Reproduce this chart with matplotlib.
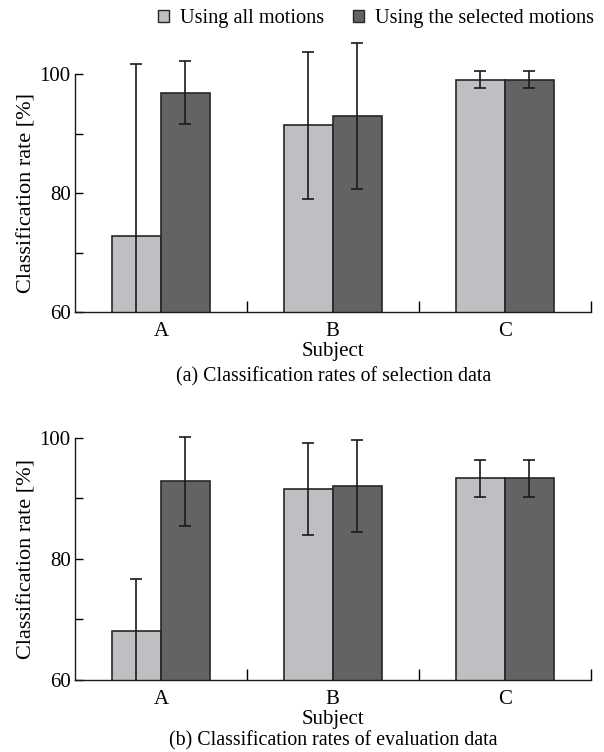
import matplotlib.pyplot as plt
import numpy as np
from matplotlib.patches import Patch

subjects = ["A", "B", "C"]
series_names = ["Using all motions", "Using the selected motions"]

# (a) selection data
sel_all = [72.9, 91.4, 99.1]
sel_all_err = [28.8, 12.4, 1.4]
sel_sel = [96.9, 93.0, 99.1]
sel_sel_err = [5.3, 12.3, 1.4]

# (b) evaluation data
eval_all = [68.1, 91.5, 93.3]
eval_all_err = [8.6, 7.6, 3.1]
eval_sel = [92.8, 92.0, 93.3]
eval_sel_err = [7.3, 7.6, 3.1]

captions = ["(a) Classification rates of selection data",
            "(b) Classification rates of evaluation data"]

light = "#bebfc3"
dark = "#636365"
edge = "#262626"

plt.rcParams["font.family"] = ["Liberation Serif", "DejaVu Serif"]
plt.rcParams["font.size"] = 15


def draw_panel(ax, all_vals, all_err, sel_vals, sel_err):
    x = np.arange(len(subjects))
    w = 0.285
    ekw = dict(ecolor="#1a1a1a", elinewidth=1.2, capsize=4.5, capthick=1.2)
    ax.bar(x - w / 2, all_vals, w, color=light, edgecolor=edge,
           linewidth=1.2, yerr=all_err, error_kw=ekw, zorder=2)
    ax.bar(x + w / 2, sel_vals, w, color=dark, edgecolor=edge,
           linewidth=1.2, yerr=sel_err, error_kw=ekw, zorder=2)

    ax.set_xlim(-0.5, 2.5)
    ax.set_ylim(60, 108)
    ax.spines["top"].set_visible(False)
    ax.spines["right"].set_visible(False)
    ax.spines["left"].set_bounds(60, 100)
    for s in ("left", "bottom"):
        ax.spines[s].set_linewidth(1.0)
        ax.spines[s].set_color("#1a1a1a")

    ax.set_yticks([60, 70, 80, 90, 100])
    ax.set_yticklabels(["60", "", "80", "", "100"])
    ax.tick_params(axis="y", direction="in", length=6, width=1.0, pad=3,
                   labelsize=15)

    ax.set_xticks(x)
    ax.set_xticklabels(subjects)
    ax.set_xticks([0.5, 1.5, 2.5], minor=True)
    ax.tick_params(axis="x", which="major", length=0, pad=7, labelsize=15)
    ax.tick_params(axis="x", which="minor", direction="in", length=8, width=1.0)

    ax.set_xlabel("Subject", labelpad=1, fontsize=15)
    ax.set_ylabel("Classification rate [%]", fontsize=16)
    ax.yaxis.set_label_coords(-0.075, 20 / 48)


fig = plt.figure(figsize=(6.04, 7.52), dpi=100)
ax1 = fig.add_axes([0.124, 0.5847, 0.854, 0.3798])
ax2 = fig.add_axes([0.124, 0.0957, 0.854, 0.3867])

draw_panel(ax1, sel_all, sel_all_err, sel_sel, sel_sel_err)
draw_panel(ax2, eval_all, eval_all_err, eval_sel, eval_sel_err)

fig.text(0.552, 1 - 381 / 752, captions[0], ha="center", va="baseline",
         fontsize=14.3)
fig.text(0.552, 1 - 745 / 752, captions[1], ha="center", va="baseline",
         fontsize=14.3)

handles = [Patch(facecolor=light, edgecolor=edge, linewidth=1.0),
           Patch(facecolor=dark, edgecolor=edge, linewidth=1.0)]
fig.legend(handles, series_names, loc="center right",
           bbox_to_anchor=(0.997, 1 - 19 / 752), ncol=2, frameon=False,
           fontsize=14.6, handlelength=0.55, handleheight=0.55,
           handletextpad=0.55, columnspacing=1.4, borderaxespad=0)

fig.savefig("out.png", dpi=100)
